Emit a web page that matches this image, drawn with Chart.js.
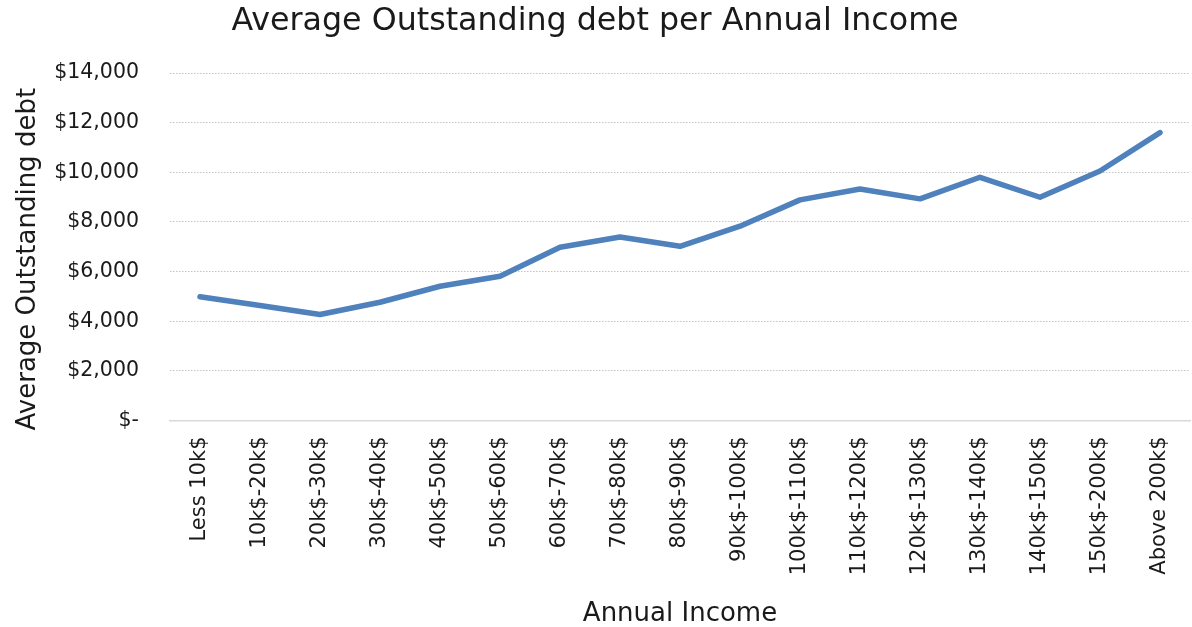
<!DOCTYPE html>
<html>
<head>
<meta charset="utf-8">
<script src="https://cdn.jsdelivr.net/npm/chart.js@4/dist/chart.umd.min.js"></script>
<style>
  html, body { margin: 0; padding: 0; background: #fff; }
  #wrap { width: 1192px; height: 627px; }
</style>
</head>
<body>
<div id="wrap"><canvas id="debtChart" width="1192" height="627"></canvas></div>
<script>
const incomeBands = [
    'Less 10k$', '10k$-20k$', '20k$-30k$', '30k$-40k$', '40k$-50k$', '50k$-60k$',
    '60k$-70k$', '70k$-80k$', '80k$-90k$', '90k$-100k$', '100k$-110k$', '110k$-120k$',
    '120k$-130k$', '130k$-140k$', '140k$-150k$', '150k$-200k$', 'Above 200k$'
];
const avgDebt = [
    4990, 4630, 4270, 4765, 5410, 5810, 6980, 7395, 7020, 7830, 8890, 9330,
    8930, 9800, 8995, 10055, 11600
];
const debtTicks = [0, 2000, 4000, 6000, 8000, 10000, 12000, 14000];

const FONT = "'DejaVu Sans', sans-serif";
const TEXT = '#1a1a1a';

function money(v) {
    if (v === 0) return '$-';
    return '$' + v.toLocaleString('en-US');
}

const ctx = document.getElementById('debtChart').getContext('2d');

const chart = new Chart(ctx, {
    type: 'line',
    data: {
        labels: incomeBands,
        datasets: [{
            label: 'Average Outstanding debt',
            data: avgDebt,
            borderColor: '#4f81bd',
            borderWidth: 5.5,
            borderCapStyle: 'round',
            borderJoinStyle: 'round',
            pointRadius: 0,
            tension: 0,
            fill: false
        }]
    },
    options: {
        responsive: false,
        animation: false,
        layout: { padding: { left: 0, right: 2, top: 0, bottom: 0 } },
        plugins: {
            legend: { display: false },
            tooltip: { enabled: false },
            title: {
                display: true,
                text: 'Average Outstanding debt per Annual Income',
                color: TEXT,
                font: { family: FONT, size: 31.7, weight: 'normal' },
                padding: { top: 3, bottom: 32 }
            }
        },
        scales: {
            x: {
                offset: true,
                grid: { display: false, drawTicks: false },
                border: { display: true, color: '#d9d9d9', width: 1.5 },
                ticks: {
                    color: TEXT,
                    font: { family: FONT, size: 21 },
                    minRotation: 90,
                    maxRotation: 90,
                    autoSkip: false,
                    padding: 16
                },
                title: {
                    display: true,
                    text: 'Annual Income',
                    color: TEXT,
                    font: { family: FONT, size: 26 },
                    padding: { top: 0, bottom: -3 }
                },
                afterFit: (scale) => {
                    // keep the plot flush with the right edge despite the rotated labels
                    scale.height = 206.5;
                    scale.paddingLeft = 0;
                    scale.paddingRight = 0;
                }
            },
            y: {
                min: 0,
                max: 14000,
                afterBuildTicks: (scale) => { scale.ticks = debtTicks.map(v => ({ value: v })); },
                grid: {
                    color: '#c4c4c4',
                    lineWidth: 1,
                    drawTicks: false
                },
                border: { display: false, dash: [1.5, 1.5] },
                ticks: {
                    color: TEXT,
                    font: { family: FONT, size: 20.5 },
                    padding: 31,
                    callback: (v) => money(v)
                },
                title: {
                    display: true,
                    // trailing spaces nudge the rotated title down a little
                    text: 'Average Outstanding debt   ',
                    color: TEXT,
                    font: { family: FONT, size: 26 },
                    padding: { top: 13, bottom: 0 }
                },
                afterFit: (scale) => { scale.width = 170; }
            }
        }
    }
});
</script>
</body>
</html>
